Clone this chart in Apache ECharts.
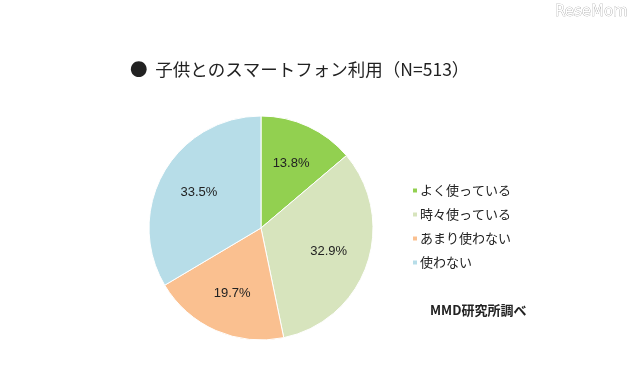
<!DOCTYPE html>
<html><head><meta charset="utf-8">
<script src="https://cdn.jsdelivr.net/npm/echarts@6/dist/echarts.min.js"></script>
<style>html,body{margin:0;padding:0;background:#fff}#c{width:640px;height:388px}</style>
</head><body><div id="c"></div>
<script>
const categories = ['よく使っている', '時々使っている', 'あまり使わない', '使わない'];
const values = [13.8, 32.9, 19.7, 33.5];
const colors = ['#92d050', '#d7e4bd', '#fac090', '#b7dde8'];
const titleText = '●  子供とのスマートフォン利用（N=513）';
const sourceText = 'MMD研究所調べ';

const data = categories.map((n, i) => ({ name: n, value: values[i], itemStyle: { color: colors[i] } }));
const chart = echarts.init(document.getElementById('c'), null, { renderer: 'canvas' });
const font = '"Noto Sans CJK JP", "Noto Sans", sans-serif';
chart.setOption({
  animation: false,
  backgroundColor: '#fff',
  title: {
    text: titleText, left: 125, top: 56,
    textStyle: { fontFamily: font, fontSize: 17.5, fontWeight: 'normal', color: '#222' }
  },
  graphic: [
    { type: 'text', left: 430, top: 304, style: { text: sourceText, font: 'bold 13px ' + font, fill: '#222' } },
    { type: 'text', right: 12, top: 4, style: { text: 'ReseMom', font: '15px "DejaVu Sans", sans-serif', fill: '#fff', stroke: '#999', lineWidth: 0.6 } }
  ],
  legend: {
    orient: 'vertical', left: 406, top: 179,
    itemWidth: 6, itemHeight: 6, itemGap: 11, icon: 'rect',
    data: categories,
    textStyle: { fontFamily: font, fontSize: 13, color: '#222', padding: [0, 0, 0, -3] }
  },
  series: [
    {
      type: 'pie', center: [261, 228], radius: [0, 112], startAngle: 90, clockwise: true,
      data: data, label: { show: false }, labelLine: { show: false },
      itemStyle: { borderColor: '#fff', borderWidth: 1 }, silent: true
    },
    {
      type: 'pie', center: [261, 228], radius: [25, 112], startAngle: 90, clockwise: true,
      data: data.map(d => ({ name: d.name, value: d.value, itemStyle: { color: 'rgba(0,0,0,0)' } })),
      label: { show: true, position: 'inside', formatter: p => p.value.toFixed(1) + '%',
        fontFamily: '"Liberation Sans", Arial, sans-serif', fontSize: 13, color: '#222' },
      labelLine: { show: false }, silent: true, legendHoverLink: false
    }
  ]
});
</script></body></html>
